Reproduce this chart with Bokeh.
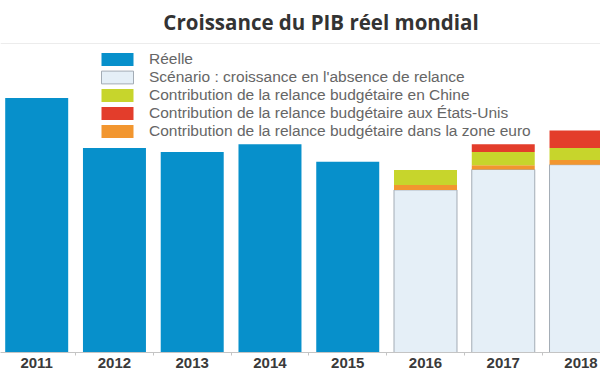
from bokeh.plotting import figure
from bokeh.models import (ColumnDataSource, Range1d, LinearAxis, FixedTicker,
                          Legend, LegendItem, Label, Span)
from bokeh.embed import file_html
from bokeh.resources import INLINE

# ---- data -------------------------------------------------------------
years = ["2011", "2012", "2013", "2014", "2015", "2016", "2017", "2018"]
reelle = [4.24, 3.41, 3.34, 3.47, 3.18]          # 2011-2015
scenario = [2.71, 3.05, 3.13]                     # 2016-2018
zone_euro = [0.08, 0.07, 0.08]
chine = [0.25, 0.22, 0.20]
etats_unis = [0.00, 0.13, 0.29]

labels = ["Réelle",
          "Scénario : croissance en l'absence de relance",
          "Contribution de la relance budgétaire en Chine",
          "Contribution de la relance budgétaire aux États-Unis",
          "Contribution de la relance budgétaire dans la zone euro"]

BLUE, SCEN, GREEN, RED, ORANGE = "#0790cb", "#e5eff7", "#c7d52c", "#e33d2b", "#f2962f"

x_real = list(range(len(reelle)))
x_proj = list(range(len(reelle), len(years)))

src_real = ColumnDataSource(dict(x=x_real, top=reelle))
src_proj = ColumnDataSource(dict(x=x_proj, scenario=scenario, euro=zone_euro,
                                 chine=chine, us=etats_unis))

# ---- figure -----------------------------------------------------------
W, H = 600, 372
p = figure(width=W, height=H, output_backend="svg", toolbar_location=None,
           x_axis_type=None, y_axis_type=None,
           x_range=Range1d(-36.2 / 77.76, (600 - 36.2) / 77.76),
           y_range=Range1d(0, 352 / 60),
           min_border_left=0, min_border_right=0, min_border_top=0,
           min_border_bottom=20)
p.outline_line_color = None
p.background_fill_color = "white"
p.border_fill_color = "white"

BW = 0.81
r_real = p.vbar(x="x", top="top", width=BW, source=src_real,
                fill_color=BLUE, line_color=None)

stack = p.vbar_stack(["scenario", "euro", "chine", "us"], x="x", width=BW,
                     source=src_proj,
                     fill_color=[SCEN, ORANGE, GREEN, RED],
                     line_color=["#a3acb5", None, None, None])
r_scen, r_euro, r_chine, r_us = stack

# ---- x axis -----------------------------------------------------------
ax = LinearAxis(ticker=FixedTicker(ticks=list(range(len(years))),
                                   minor_ticks=[i + 0.5 for i in range(-1, len(years))]),
                major_label_overrides={i: y for i, y in enumerate(years)})
ax.axis_line_color = "#c4c4c4"
ax.major_tick_line_color = None
ax.major_tick_in = 0
ax.major_tick_out = 0
ax.minor_tick_line_color = "#c4c4c4"
ax.minor_tick_in = 0
ax.minor_tick_out = 3
ax.major_label_standoff = 2
ax.major_label_text_font = "Liberation Sans"
ax.major_label_text_font_style = "bold"
ax.major_label_text_font_size = "15px"
ax.major_label_text_color = "#3a3a3a"
p.add_layout(ax, "below")

# ---- title and separator ----------------------------------------------
p.add_layout(Span(location=(352 - 43) / 60, dimension="width",
                  line_color="#ececec", line_width=1))
p.add_layout(Label(x=3.656, y=(352 - 21) / 60, text="Croissance du PIB réel mondial",
                   text_align="center", text_baseline="alphabetic",
                   text_font="Open Sans", text_font_style="bold",
                   text_font_size="20.5px", text_color="#333333"))

# ---- legend -----------------------------------------------------------
legend = Legend(items=[LegendItem(label=labels[0], renderers=[r_real]),
                       LegendItem(label=labels[1], renderers=[r_scen]),
                       LegendItem(label=labels[2], renderers=[r_chine]),
                       LegendItem(label=labels[3], renderers=[r_us]),
                       LegendItem(label=labels[4], renderers=[r_euro])],
                location=(97, 212), orientation="vertical",
                glyph_width=40, glyph_height=16, label_height=16, spacing=0,
                label_standoff=12, padding=0, margin=0,
                border_line_color=None, background_fill_alpha=0,
                label_text_font="Liberation Sans", label_text_font_size="15.5px",
                label_text_color="#666666")
p.add_layout(legend, "center")

open("out.html", "w").write(file_html(p, INLINE))
